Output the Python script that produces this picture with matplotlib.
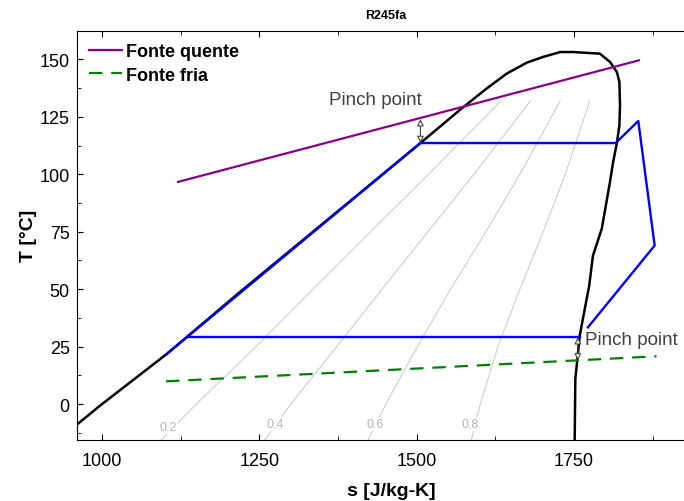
import numpy as np
import matplotlib.pyplot as plt

plt.rcParams['font.family'] = ['Liberation Sans', 'DejaVu Sans']

# saturation dome R245fa (s [J/kg-K], T [C])
dome_s = [931, 960, 997, 1103, 1219, 1506, 1569, 1611, 1643, 1675, 1701, 1728, 1749,
          1791, 1807, 1818, 1822, 1823, 1822, 1818, 1812, 1807, 1794, 1780, 1774,
          1767, 1759, 1752, 1751]
dome_T = [-15.5, -9.0, -0.7, 21.8, 48.7, 113.6, 128.1, 137.3, 143.8, 148.6, 151.1, 153.2, 153.2,
          152.5, 148.9, 144.5, 140.2, 130.0, 121.3, 113.6, 105.3, 96.6, 76.3, 64.6, 51.5,
          41.4, 29.8, 10.9, -15.5]

# cycle
cycle_s = [1103, 1506, 1816, 1852, 1878, 1772]
cycle_T = [21.8, 113.6, 113.6, 123.2, 69.0, 33.4]
cond_s = [1759, 1135]
cond_T = [29.1, 29.1]

# heat sources
quente_s = [1121, 1853]
quente_T = [96.7, 149.6]
fria_s = [1102, 1881]
fria_T = [9.9, 20.8]

# quality lines
q_T = [-15.5, 0, 25, 50, 75, 100, 132]
q_lines = {
    '0.2': [1095, 1150, 1245, 1335, 1427, 1519, 1634],
    '0.4': [1259, 1300, 1373, 1445, 1518, 1591, 1681],
    '0.6': [1423, 1451, 1501, 1554, 1610, 1664, 1728],
    '0.8': [1587, 1601, 1629, 1664, 1701, 1736, 1775],
}
q_label_pos = {'0.2': (1105, -10.0), '0.4': (1275, -8.7), '0.6': (1434, -8.7), '0.8': (1585, -8.7)}

fig = plt.figure(figsize=(6.84, 5.02), dpi=100)
ax = fig.add_axes([0.1121, 0.1221, 0.9376, 0.8148])

for q, s in q_lines.items():
    ax.plot(s, q_T, color='#c8c8c8', lw=0.7, zorder=1)
    ax.text(q_label_pos[q][0], q_label_pos[q][1], q, color='#b4b4b4', fontsize=9,
            ha='center', va='center', zorder=2,
            bbox=dict(facecolor='white', edgecolor='none', pad=0.5))

ax.plot(dome_s, dome_T, color='black', lw=1.8, zorder=3)
ax.plot(cycle_s, cycle_T, color='#0000ff', lw=1.7, zorder=4)
ax.plot(cond_s, cond_T, color='#0000ff', lw=1.7, zorder=4)
ax.plot(quente_s, quente_T, color='#8b008b', lw=1.6, zorder=5, label='Fonte quente')
ax.plot(fria_s, fria_T, color='#008000', lw=1.6, ls=(0, (6, 4)), zorder=5, label='Fonte fria')

# pinch points
arr = dict(arrowstyle='<|-|>', fc='white', ec='#444444', lw=0.8, mutation_scale=10,
           shrinkA=0, shrinkB=0)
ax.annotate('', xy=(1506, 124.0), xytext=(1506, 113.6), arrowprops=arr, zorder=6)
ax.annotate('', xy=(1756, 29.1), xytext=(1756, 19.0), arrowprops=arr, zorder=6)
ax.text(1434, 132.5, 'Pinch point', fontsize=13.5, color='#404040', ha='center', va='center')
ax.text(1767, 27.9, 'Pinch point', fontsize=13.5, color='#404040', ha='left', va='center')

ax.set_xlim(960, 1978.6)
ax.set_ylim(-15.5, 162.5)
ax.set_xticks([1000, 1250, 1500, 1750])
ax.set_xticks([1125, 1375, 1625, 1875], minor=True)
ax.set_yticks([0, 25, 50, 75, 100, 125, 150])
ax.set_yticks(np.arange(-12.5, 162.5, 25), minor=True)
ax.tick_params(which='both', direction='in', top=True, right=True, labelsize=13)
ax.tick_params(which='major', length=4)
ax.tick_params(which='minor', length=3)
ax.tick_params(axis='x', pad=9)
ax.tick_params(axis='y', pad=5)

ax.set_xlabel('s [J/kg-K]', fontsize=14, fontweight='bold', labelpad=9, x=0.49)
ax.set_ylabel('T [°C]', fontsize=14, fontweight='bold', labelpad=2)
ax.set_title('R245fa', fontsize=9, fontweight='bold', pad=9, x=0.482)

ax.legend(loc='upper left', frameon=False, prop={'weight': 'bold', 'size': 13},
          handlelength=1.8, handletextpad=0.25, labelspacing=0.35,
          bbox_to_anchor=(0.0, 1.0), borderaxespad=0.3)

fig.savefig('out.png', dpi=100)
